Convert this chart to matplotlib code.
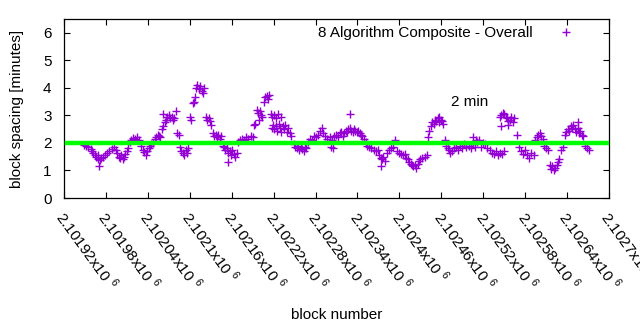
import matplotlib
matplotlib.use("Agg")
import matplotlib.pyplot as plt
import matplotlib.transforms as mtransforms
import numpy as np

plt.rcParams["font.family"] = ["Liberation Sans", "DejaVu Sans"]
plt.rcParams["mathtext.fontset"] = "custom"
plt.rcParams["mathtext.rm"] = "Liberation Sans"

# block offsets from 2100000 and the spacing (minutes)
block_offset = [
    1949, 1952, 1955, 1958, 1960, 1962, 1964, 1966, 1968, 1969, 1970, 1971, 1973,
    1976, 1979, 1982, 1985, 1988, 1991,
    1994, 1996, 1998, 2000, 2002, 2004, 2006, 2008, 2010, 2012,
    2014, 2016, 2019, 2022, 2025, 2028,
    2030, 2033, 2035, 2037, 2039, 2041, 2043, 2045, 2048,
    2050, 2052, 2054, 2056, 2058, 2060, 2062, 2062, 2064, 2066,
    2068, 2070, 2072, 2074, 2076, 2078, 2080, 2082, 2084,
    2086, 2088, 2090, 2092, 2094, 2096, 2098, 2100, 2102, 2104, 2106, 2107,
    2109, 2111, 2113, 2115, 2117, 2119, 2121,
    2123, 2125, 2127, 2129, 2131,
    2133, 2135, 2137, 2139, 2141, 2143, 2145,
    2147, 2149, 2151, 2153, 2154, 2155, 2157, 2159, 2161, 2163, 2165, 2167,
    2169, 2172, 2175, 2178, 2181, 2184, 2187, 2190, 2192, 2194,
    2196, 2198, 2199, 2200, 2202, 2204, 2206, 2208, 2210, 2212, 2214,
    2216, 2218, 2220, 2224, 2226, 2230,
    2217, 2219, 2221, 2223, 2225, 2227, 2229, 2231, 2233, 2235, 2237, 2239, 2241, 2243, 2245,
    2249, 2251, 2253, 2255, 2257, 2259, 2261, 2263, 2265, 2267,
    2269, 2272, 2275, 2278, 2281, 2284, 2287, 2289, 2291, 2294, 2297, 2300, 2302,
    2303, 2305, 2306, 2309, 2312, 2315, 2317, 2319,
    2321, 2323, 2325, 2327, 2329, 2329, 2331, 2333, 2335, 2337, 2339, 2341, 2343, 2345, 2347,
    2349, 2352, 2354, 2357, 2360, 2363, 2366, 2369,
    2371, 2373, 2374, 2375, 2377, 2379, 2382, 2385, 2388, 2391, 2394,
    2396, 2399, 2402, 2405, 2408,
    2410, 2412, 2414, 2416, 2418, 2420, 2422, 2424, 2426,
    2428, 2430, 2433, 2436, 2439, 2441,
    2443, 2445, 2447, 2449, 2451, 2453, 2455, 2456, 2457, 2459, 2461, 2463,
    2465, 2467, 2469, 2471, 2473, 2475,
    2478, 2481, 2484, 2487, 2490, 2493, 2496, 2499, 2502, 2505, 2506, 2508, 2509,
    2511, 2514, 2517, 2520, 2523, 2526,
    2529, 2532, 2535, 2538, 2541, 2544, 2547, 2550,
    2544, 2545, 2546, 2548, 2550, 2552, 2554, 2555, 2556, 2558, 2560, 2562, 2564,
    2568,
    2571, 2574, 2577, 2580, 2583, 2586, 2589, 2592,
    2594, 2597, 2599, 2601, 2603, 2605,
    2607, 2610, 2613,
    2615, 2617, 2619, 2621, 2623, 2625, 2627, 2629,
    2631, 2634,
    2637, 2639, 2641, 2643, 2645, 2647, 2649, 2651, 2653, 2655, 2656, 2657, 2659, 2661, 2663,
    2666, 2669, 2672,
]
spacing_min = [
    1.93, 1.90, 1.85, 1.78, 1.70, 1.62, 1.55, 1.50, 1.42, 1.55, 1.17, 1.38, 1.45,
    1.50, 1.55, 1.62, 1.70, 1.78, 1.85,
    1.75, 1.62, 1.50, 1.45, 1.55, 1.42, 1.48, 1.60, 1.70, 1.80,
    2.05, 2.12, 2.18, 2.15, 2.20, 2.12,
    1.90, 1.75, 1.68, 1.55, 1.72, 1.80, 1.90, 1.95, 2.00,
    2.15, 2.22, 2.28, 2.25, 2.20, 2.50, 2.60, 3.05, 2.75, 2.85,
    2.95, 3.00, 2.90, 2.95, 2.85, 2.90, 3.15, 2.35, 2.30,
    1.85, 1.70, 1.62, 1.55, 1.75, 1.65, 1.80, 2.95, 2.85, 3.45, 3.50, 3.65,
    4.00, 4.10, 3.95, 4.05, 3.90, 3.80, 4.00,
    2.95, 2.85, 2.90, 2.80, 2.65,
    2.35, 2.25, 2.30, 2.20, 2.28, 2.15, 2.25,
    1.90, 1.85, 1.75, 1.80, 1.30, 1.65, 1.70, 1.55, 1.75, 1.60, 1.50, 1.65,
    2.05, 2.10, 2.15, 2.12, 2.20, 2.15, 2.25, 2.20, 2.65, 2.70,
    3.20, 3.10, 2.85, 3.15, 3.00, 2.95, 3.50, 3.65, 3.70, 3.60, 3.75,
    3.05, 2.95, 3.00, 2.90, 3.05, 2.95,
    2.55, 2.65, 2.50, 2.60, 2.45, 2.70, 2.55, 2.40, 2.60, 2.50, 2.65, 2.40, 2.55, 2.35, 2.25,
    1.95, 1.85, 1.80, 1.90, 1.75, 1.85, 1.78, 1.70, 1.85, 1.80,
    2.05, 2.15, 2.10, 2.25, 2.20, 2.30, 2.45, 2.55, 2.35, 2.25, 2.15, 2.20, 1.85,
    2.10, 1.80, 2.25, 2.30, 2.20, 2.35, 2.40, 2.25,
    2.35, 2.45, 2.40, 2.50, 2.55, 3.05, 2.45, 2.40, 2.50, 2.45, 2.40, 2.45, 2.35, 2.30, 2.25,
    2.15, 2.05, 1.90, 1.85, 1.80, 1.75, 1.70, 1.75,
    1.55, 1.45, 1.15, 1.40, 1.50, 1.35, 1.65, 1.75, 1.80, 1.85, 2.10,
    1.70, 1.65, 1.60, 1.55, 1.60,
    1.45, 1.40, 1.30, 1.25, 1.20, 1.15, 1.20, 1.10, 1.25,
    1.35, 1.40, 1.45, 1.50, 1.55, 2.20,
    2.45, 2.60, 2.75, 2.70, 2.85, 2.80, 2.90, 2.95, 2.75, 2.85, 2.80, 2.70,
    2.10, 1.90, 1.80, 1.75, 1.65, 1.70,
    1.80, 1.85, 1.75, 1.90, 1.80, 1.95, 1.85, 1.90, 1.80, 1.95, 2.20, 1.85, 2.10,
    2.05, 2.10, 1.85, 2.00, 1.95, 1.80,
    1.75, 1.65, 1.60, 1.70, 1.55, 1.65, 1.60, 1.70,
    2.95, 2.60, 3.00, 3.10, 3.05, 2.95, 2.90, 2.65, 2.80, 2.85, 2.95, 2.75, 2.90,
    2.30,
    1.85, 1.70, 1.60, 1.75, 1.55, 1.45, 1.65, 1.55,
    2.10, 2.20, 2.30, 2.35, 2.25, 2.15,
    1.90, 1.80, 1.75,
    1.20, 1.05, 1.15, 1.00, 1.10, 1.20, 1.30, 1.40,
    1.75, 1.85,
    2.30, 2.40, 2.50, 2.45, 2.60, 2.55, 2.65, 2.50, 2.40, 2.55, 2.75, 2.35, 2.45, 2.30, 2.25,
    1.90, 1.80, 1.75,
]

target_blocks = [2101925, 2102697]
target_min = [2, 2]
x_ticks = [2101920 + 60 * i for i in range(14)]
y_ticks = [0, 1, 2, 3, 4, 5, 6]

blocks = 2100000 + np.array(block_offset)
FS = 11

fig = plt.figure(figsize=(6.4, 3.3), dpi=100)
ax = fig.add_axes([64 / 640, 132 / 330, 545 / 640, 179 / 330])

ax.plot(target_blocks, target_min, color="#00ff00", lw=3.2, zorder=3)
ax.plot(blocks, spacing_min, ls="none", marker="+", ms=6, mew=1.0,
        color="#9400d3", label="8 Algorithm Composite - Overall", zorder=2)

ax.text(2102501, 3.5, "2 min", fontsize=FS, ha="center", va="center")

ax.set_xlim(2101920, 2102700)
ax.set_ylim(0, 6.5)
ax.set_yticks(y_ticks)
ax.set_xticks(x_ticks)
ax.set_xticklabels([r"%sx10 $^{\mathregular{6}}$" % format(v / 1e6, "g") for v in x_ticks])
ax.tick_params(direction="in", top=True, right=True, length=4.5, width=0.8,
               labelsize=FS)
ax.tick_params(axis="y", pad=9)
ax.tick_params(axis="x", pad=7)
shift = mtransforms.ScaledTranslation(4 / 100, 0, fig.dpi_scale_trans)
for lbl in ax.get_xticklabels():
    lbl.set_rotation(-54)
    lbl.set_ha("left")
    lbl.set_va("top")
    lbl.set_rotation_mode("anchor")
    lbl.set_transform(lbl.get_transform() + shift)
for s in ax.spines.values():
    s.set_linewidth(0.9)

ax.set_ylabel("block spacing [minutes]", fontsize=FS)
ax.yaxis.set_label_coords(-0.073, 0.5)
ax.set_xlabel("block number", fontsize=FS)
ax.xaxis.set_label_coords(0.5, -0.655)
ax.xaxis.label.set_va("center")

ax.legend(loc="upper right", bbox_to_anchor=(0.95, 0.96), markerfirst=False,
          frameon=False, fontsize=FS, borderpad=0, borderaxespad=0,
          handlelength=2.0, handletextpad=1.2)

fig.savefig("out.png", dpi=100)
